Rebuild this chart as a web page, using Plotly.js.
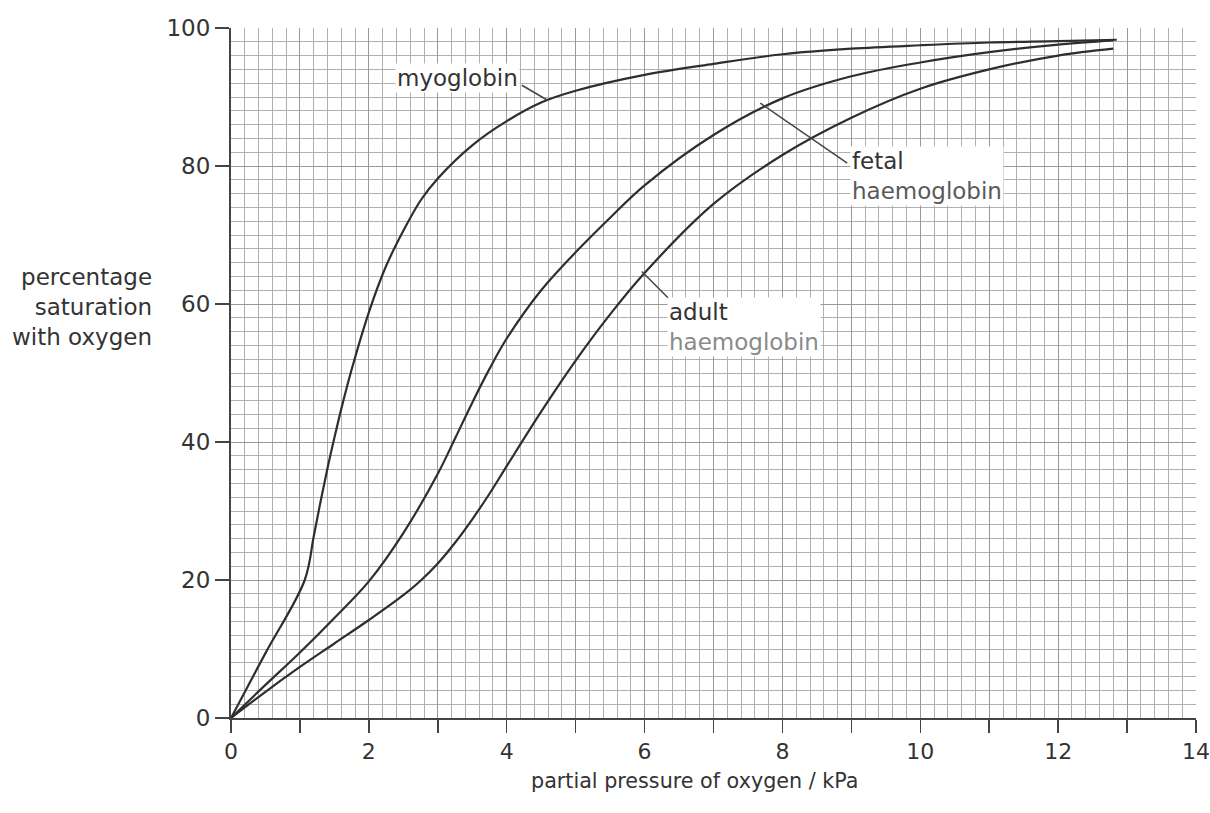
<!DOCTYPE html>
<html>
<head>
<meta charset="utf-8">
<script src="https://cdn.plot.ly/plotly-3.0.1.min.js"></script>
<style>
  html, body { margin: 0; padding: 0; background: #ffffff; }
  #chart { width: 1210px; height: 813px; }
</style>
</head>
<body>
<div id="chart"></div>
<script>
// ---- data ----
const myoglobinX = [0, 0.5, 1.07, 1.2, 1.3, 1.4, 1.5, 1.6, 1.75, 2, 2.25, 2.5, 2.75, 3, 3.5, 4, 4.5, 5, 6, 7, 8, 9, 10, 11, 12, 12.85];
const myoglobinY = [0, 9.4, 20, 26.3, 31.4, 36.2, 40.6, 44.8, 50.5, 58.8, 65.5, 70.6, 75, 78.2, 83, 86.5, 89.2, 90.9, 93.2, 94.8, 96.2, 97, 97.5, 97.9, 98.1, 98.3];

const fetalX = [0, 0.5, 1, 1.5, 2, 2.5, 3, 3.25, 3.5, 3.75, 4, 4.5, 5, 5.5, 6, 7, 8, 9, 10, 11, 12, 12.8];
const fetalY = [0, 4.8, 9.5, 14.5, 19.8, 26.8, 35.4, 40.5, 45.7, 50.6, 55, 62, 67.5, 72.5, 77.2, 84.5, 89.8, 93, 95, 96.5, 97.6, 98.2];

const adultX = [0, 0.5, 1, 1.5, 2, 2.5, 2.75, 3, 3.25, 3.5, 3.75, 4, 4.5, 5, 5.5, 6, 7, 8, 9, 10, 11, 12, 12.8];
const adultY = [0, 3.8, 7.4, 10.8, 14.2, 17.8, 19.9, 22.4, 25.4, 28.8, 32.5, 36.5, 44.4, 51.8, 58.5, 64.5, 74.5, 81.6, 87, 91.2, 94, 96, 97];

const xTickVals = [0, 1, 2, 3, 4, 5, 6, 7, 8, 9, 10, 11, 12, 13, 14];
const xTickText = ['0', '', '2', '', '4', '', '6', '', '8', '', '10', '', '12', '', '14'];
const yTickVals = [0, 20, 40, 60, 80, 100];

const xTitle = 'partial pressure of oxygen / kPa';
const yTitle = 'percentage<br>saturation<br>with oxygen';

// ---- styling ----
const FONT = 'DejaVu Sans, Liberation Sans, Arial, sans-serif';
const TXT = '#333333';
const FS = 23;
const curveStyle = { color: '#2e2e2e', width: 2.2, shape: 'spline', smoothing: 1.0 };

const traces = [
  { x: myoglobinX, y: myoglobinY, name: 'myoglobin', mode: 'lines', line: curveStyle, hoverinfo: 'skip' },
  { x: fetalX, y: fetalY, name: 'fetal haemoglobin', mode: 'lines', line: curveStyle, hoverinfo: 'skip' },
  { x: adultX, y: adultY, name: 'adult haemoglobin', mode: 'lines', line: curveStyle, hoverinfo: 'skip' }
];

const layout = {
  width: 1210,
  height: 813,
  margin: { l: 231, r: 14, t: 28, b: 95 },
  paper_bgcolor: '#ffffff',
  plot_bgcolor: '#ffffff',
  showlegend: false,
  font: { family: FONT, size: FS, color: TXT },
  xaxis: {
    range: [0, 14],
    tickmode: 'array',
    tickvals: xTickVals,
    ticktext: xTickText,
    ticks: 'outside',
    ticklen: 13,
    tickwidth: 1.5,
    tickcolor: '#444',
    ticklabeloverflow: 'allow',
    showline: true,
    linecolor: '#444',
    linewidth: 2,
    showgrid: true,
    gridcolor: '#999999',
    gridwidth: 1,
    zeroline: false,
    tickfont: { family: FONT, size: 22, color: TXT },
    minor: { tickmode: 'linear', tick0: 0, dtick: 0.2, showgrid: true, gridcolor: '#b0b0b0', gridwidth: 1, ticks: '' },
    fixedrange: true
  },
  yaxis: {
    range: [0, 100],
    tickmode: 'array',
    tickvals: yTickVals,
    ticks: 'outside',
    ticklen: 14,
    tickwidth: 1.5,
    tickcolor: '#444',
    showline: true,
    linecolor: '#444',
    linewidth: 2,
    showgrid: true,
    gridcolor: '#999999',
    gridwidth: 1,
    zeroline: false,
    tickfont: { family: FONT, size: FS, color: TXT },
    minor: { tickmode: 'linear', tick0: 0, dtick: 2, showgrid: true, gridcolor: '#b0b0b0', gridwidth: 1, ticks: '' },
    fixedrange: true
  },
  shapes: [
    // leader lines from labels to curves
    { type: 'line', xref: 'x', yref: 'y', x0: 4.22, y0: 91.7, x1: 4.58, y1: 89.6, line: { color: '#444', width: 1.5 } },
    { type: 'line', xref: 'x', yref: 'y', x0: 8.94, y0: 80.4, x1: 7.68, y1: 89.1, line: { color: '#444', width: 1.5 } },
    { type: 'line', xref: 'x', yref: 'y', x0: 6.35, y0: 60.8, x1: 5.96, y1: 64.7, line: { color: '#444', width: 1.5 } }
  ],
  annotations: [
    { text: 'myoglobin', xref: 'x', yref: 'y', x: 3.29, y: 92.8, xanchor: 'center', yanchor: 'middle',
      showarrow: false, bgcolor: '#ffffff', borderpad: 1, font: { family: FONT, size: FS, color: TXT } },
    { text: 'fetal<br><span style="color:#5a5a5a">haemoglobin</span>', xref: 'x', yref: 'y', x: 8.98, y: 78.6,
      xanchor: 'left', yanchor: 'middle', align: 'left', showarrow: false, bgcolor: '#ffffff', borderpad: 1,
      font: { family: FONT, size: FS, color: TXT } },
    { text: 'adult<br><span style="color:#8a8a8a">haemoglobin</span>', xref: 'x', yref: 'y', x: 6.33, y: 56.7,
      xanchor: 'left', yanchor: 'middle', align: 'left', showarrow: false, bgcolor: '#ffffff', borderpad: 1,
      font: { family: FONT, size: FS, color: TXT } },
    { text: yTitle, xref: 'paper', yref: 'y', x: -0.08, y: 59.6, xanchor: 'right', yanchor: 'middle',
      align: 'right', showarrow: false, font: { family: FONT, size: FS, color: TXT } },
    { text: xTitle, xref: 'x', yref: 'paper', x: 6.73, y: -0.092, xanchor: 'center', yanchor: 'middle',
      showarrow: false, font: { family: FONT, size: 20.7, color: TXT } }
  ]
};

Plotly.newPlot('chart', traces, layout, { staticPlot: true, displayModeBar: false });
</script>
</body>
</html>
